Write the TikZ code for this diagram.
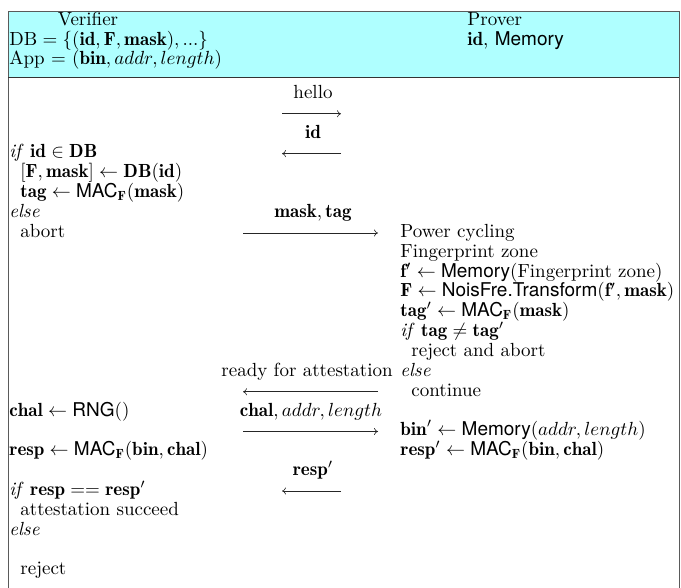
\documentclass[tikz,border=0pt]{standalone}
\usepackage{amsmath}
\usepackage{amssymb}
\usepackage{fontspec}
\usetikzlibrary{arrows.meta}
\newfontfamily\hv{TeX Gyre Heros}
\newcommand{\sfm}[1]{\text{\hv #1}}
\definecolor{headfill}{RGB}{175,255,255}
\definecolor{framecol}{RGB}{90,90,90}
\begin{document}
\begin{tikzpicture}[x=1pt,y=-1pt,
  font=\fontsize{10}{12}\selectfont,
  txt/.style={inner sep=0pt, anchor=base west, scale=1.9},
  ctr/.style={inner sep=0pt, anchor=base, scale=1.9},
  msg/.style={draw=black!85, line width=0.6pt, -{To[length=4pt,width=7pt]}},
  frame/.style={draw=framecol, line width=0.9pt}]
\useasboundingbox (0,0) rectangle (681,588);
% header
\fill[headfill] (8,11) rectangle (679,78);
\draw[frame] (8,588) -- (8,11) -- (679,11) -- (679,588);
\draw[draw=black!80, line width=1pt] (8,78) -- (679,78);
\node[ctr] (hv) at (88,26) {Verifier};
\node[txt] (hdb) at (9,46) {$\mathrm{DB}=\{(\mathbf{id},\mathbf{F},\mathbf{mask}),...\}$};
\node[txt] (happ) at (9,65) {App = $(\mathbf{bin},addr,length)$};
\node[txt] (hp) at (467,26) {Prover};
\node[txt] (hpm) at (467,46) {$\mathbf{id}$, {\hv Memory}};
% middle labels
\node[ctr] (mhello) at (313,98.45) {hello};
\coordinate (a1s) at (282,113.8); \coordinate (a1e) at (341,113.8);
\draw[msg] (a1s) -- (a1e);
\node[ctr] (mid) at (313,138.15) {$\mathbf{id}$};
\coordinate (a2s) at (341,153.6); \coordinate (a2e) at (282,153.6);
\draw[msg] (a2s) -- (a2e);
\node[ctr] (mmask) at (313,217.55) {$\mathbf{mask},\mathbf{tag}$};
\coordinate (a3s) at (243,233) ; \coordinate (a3e) at (378,233);
\draw[msg] (a3s) -- (a3e);
\node[inner sep=0pt, anchor=base east, scale=1.9] (mready) at (393,376.35) {ready for attestation};
\coordinate (a4s) at (378,391.8); \coordinate (a4e) at (243,391.8);
\draw[msg] (a4s) -- (a4e);
\node[ctr] (mchal) at (311,416.05) {$\mathbf{chal},addr,length$};
\coordinate (a5s) at (243,431.5); \coordinate (a5e) at (378,431.5);
\draw[msg] (a5s) -- (a5e);
\node[ctr] (mresp) at (313,475.6) {$\mathbf{resp}'$};
\coordinate (a6s) at (341,491); \coordinate (a6e) at (282,491);
\draw[msg] (a6s) -- (a6e);
% left column
\node[txt] (l0) at (9,158) {\textit{if} $\mathbf{id}\in\mathbf{DB}$};
\node[txt] (l1) at (20,177.85) {$[\mathbf{F},\mathbf{mask}]\leftarrow\mathbf{DB}(\mathbf{id})$};
\node[txt] (l2) at (20,197.7) {$\mathbf{tag}\leftarrow\sfm{MAC}_{\mathbf{F}}(\mathbf{mask})$};
\node[txt] (l3) at (9,217.55) {\textit{else}};
\node[txt] (l4) at (20,237.4) {abort};
\node[txt] (l13) at (9,416.05) {$\mathbf{chal}\leftarrow\sfm{RNG}()$};
\node[txt] (l15) at (9,455.75) {$\mathbf{resp}\leftarrow\sfm{MAC}_{\mathbf{F}}(\mathbf{bin},\mathbf{chal})$};
\node[txt] (l17) at (9,495.45) {\textit{if} $\mathbf{resp}==\mathbf{resp}'$};
\node[txt] (l18) at (20,515.3) {attestation succeed};
\node[txt] (l19) at (9,535.15) {\textit{else}};
\node[txt] (l21) at (20,574.85) {reject};
% right column
\node[txt] (r4) at (400,237.4) {Power cycling};
\node[txt] (r5) at (400,257.25) {Fingerprint zone};
\node[txt] (r6) at (400,277.1) {$\mathbf{f}'\leftarrow\sfm{Memory}(\text{Fingerprint zone})$};
\node[txt] (r7) at (400,296.95) {$\mathbf{F}\leftarrow\sfm{NoisFre.Transform}(\mathbf{f}',\mathbf{mask})$};
\node[txt] (r8) at (400,316.8) {$\mathbf{tag}'\leftarrow\sfm{MAC}_{\mathbf{F}}(\mathbf{mask})$};
\node[txt] (r9) at (400,336.65) {\textit{if} $\mathbf{tag}\neq\mathbf{tag}'$};
\node[txt] (r10) at (411,356.5) {reject and abort};
\node[txt] (r11) at (400,376.35) {\textit{else}};
\node[txt] (r12) at (411,396.2) {continue};
\node[txt] (r14) at (400,435.9) {$\mathbf{bin}'\leftarrow\sfm{Memory}(addr,length)$};
\node[txt] (r15) at (400,455.75) {$\mathbf{resp}'\leftarrow\sfm{MAC}_{\mathbf{F}}(\mathbf{bin},\mathbf{chal})$};
\end{tikzpicture}
\end{document}
